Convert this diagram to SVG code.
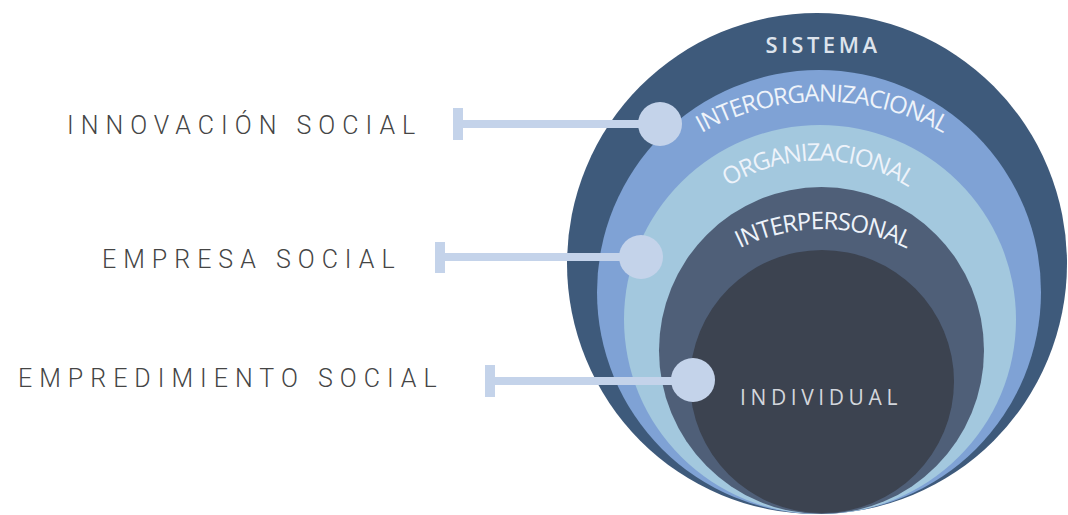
<svg xmlns="http://www.w3.org/2000/svg" width="1068" height="515" viewBox="0 0 1068 515">
  <style>
    .label { font-family: Roboto, "Liberation Sans", sans-serif; font-weight: 300; font-size: 25px; letter-spacing: 7px; fill: #454545; }
    .arc { font-family: "Open Sans", "Liberation Sans", sans-serif; font-size: 24px; fill: #eef3fa; }
    .flat { font-family: "Open Sans", "Liberation Sans", sans-serif; }
    .conn { fill: #c4d3ea; }
  </style>
  <defs>
    <path id="pInterorg" d="M 608.1,225 A 247 247 0 0 1 1035.9,225"/>
    <path id="pOrg" d="M 673.4,244 A 167 167 0 0 1 962.6,244"/>
    <path id="pInterp" d="M 658.5,324 A 190 190 0 0 1 987.5,324"/>
  </defs>
  <rect width="1068" height="515" fill="#ffffff"/>

  <g id="sistema">
    <ellipse cx="817" cy="263.5" rx="250" ry="250.5" fill="#3e5a7b"/>
    <text class="flat" x="823" y="53" font-size="22" font-weight="600" letter-spacing="3.5" fill="#dde3ec" text-anchor="middle">SISTEMA</text>
  </g>
  <g id="interorganizacional">
    <ellipse cx="819" cy="292" rx="222" ry="222" fill="#7fa2d5"/>
    <text class="arc" letter-spacing="-1.1"><textPath href="#pInterorg" startOffset="50%" text-anchor="middle">INTERORGANIZACIONAL</textPath></text>
  </g>
  <g id="organizacional">
    <ellipse cx="820" cy="319.5" rx="196" ry="194.5" fill="#a3c8de"/>
    <text class="arc" letter-spacing="-1.2"><textPath href="#pOrg" startOffset="50%" text-anchor="middle">ORGANIZACIONAL</textPath></text>
  </g>
  <g id="interpersonal">
    <ellipse cx="821.5" cy="350.5" rx="162.5" ry="163.5" fill="#4f5f78"/>
    <text class="arc" letter-spacing="-1.1"><textPath href="#pInterp" startOffset="50%" text-anchor="middle">INTERPERSONAL</textPath></text>
  </g>
  <g id="individual">
    <ellipse cx="822" cy="381.5" rx="132" ry="131.5" fill="#3c4350"/>
    <text class="flat" x="740" y="405" font-size="21" letter-spacing="4.6" fill="#d3d6dc">INDIVIDUAL</text>
  </g>

  <g id="connectors">
    <rect class="conn" x="453" y="108" width="10" height="32"/>
    <rect class="conn" x="458" y="120" width="200" height="8"/>
    <circle class="conn" cx="660" cy="124" r="22"/>

    <rect class="conn" x="435" y="242" width="10" height="31"/>
    <rect class="conn" x="440" y="253" width="200" height="8"/>
    <circle class="conn" cx="641" cy="257" r="22"/>

    <rect class="conn" x="485" y="365" width="10" height="32"/>
    <rect class="conn" x="490" y="377" width="200" height="8"/>
    <circle class="conn" cx="693" cy="380" r="22"/>
  </g>

  <g id="label-innovacion">
    <text class="label" x="67" y="134">INNOVACIÓN SOCIAL</text>
  </g>
  <g id="label-empresa">
    <text class="label" x="102" y="268">EMPRESA SOCIAL</text>
  </g>
  <g id="label-emprendimiento">
    <text class="label" x="18" y="387">EMPREDIMIENTO SOCIAL</text>
  </g>
</svg>
